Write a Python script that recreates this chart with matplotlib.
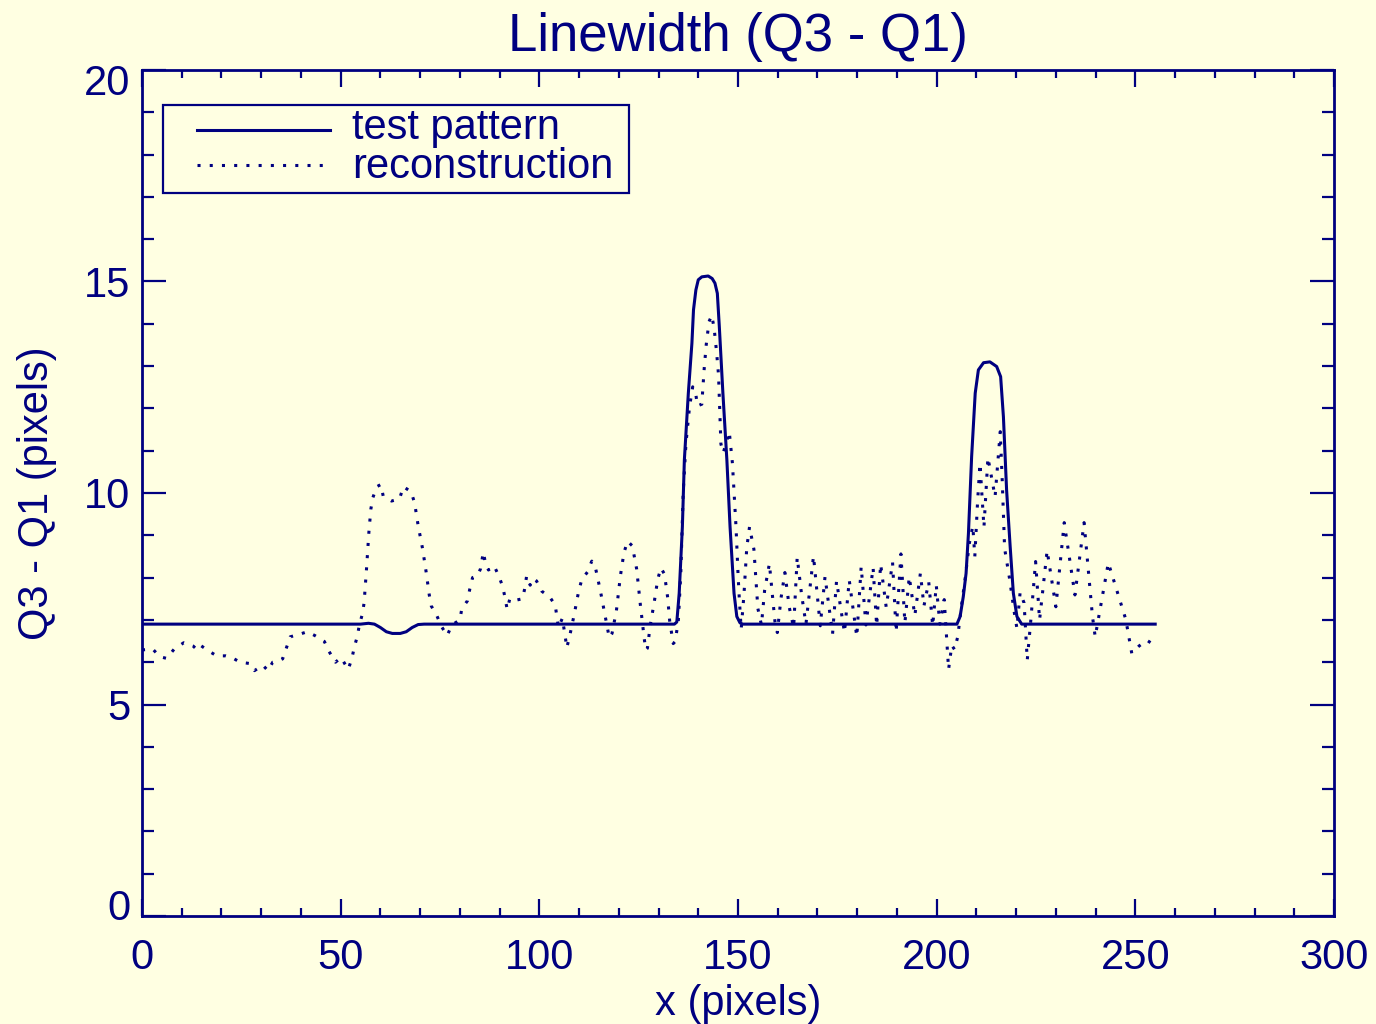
import matplotlib
matplotlib.use('Agg')
import matplotlib.pyplot as plt
from matplotlib.ticker import MultipleLocator
from matplotlib.transforms import ScaledTranslation
from matplotlib.patches import Rectangle

# test pattern (solid)
test_x = [0, 55, 57, 58.5, 60, 61.5, 63, 65, 66.5, 68, 69.5, 71,
          134, 134.6, 135.2, 136.0, 136.5, 137.5, 138.4, 138.8, 139.4, 140.0, 140.9,
          142.5, 143.5, 144.2, 144.8, 145.3, 146.2, 147.2, 148.0, 149.0, 149.7, 150.5, 151.2,
          205.1, 205.9, 206.7, 207.4, 208.0, 208.8, 209.7, 210.5, 211.8, 213.4,
          215.1, 216.1, 216.8, 217.6, 218.5, 219.3, 220.2, 221.4, 255]
test_q = [6.9, 6.9, 6.92, 6.9, 6.82, 6.72, 6.68, 6.68, 6.72, 6.82, 6.89, 6.9,
          6.9, 6.95, 7.63, 9.2, 10.78, 12.36, 13.54, 14.33, 14.8, 15.04, 15.11,
          15.13, 15.07, 14.96, 14.72, 13.93, 12.36, 10.78, 9.2, 7.63, 7.08, 6.93, 6.9,
          6.9, 7.08, 7.55, 8.1, 9.05, 10.86, 12.36, 12.91, 13.08, 13.1,
          12.99, 12.75, 11.8, 10.07, 8.73, 7.63, 7.08, 6.9, 6.9]

# reconstruction (dotted)
rec_x = [0, 2.7, 4.5, 6.2, 8.1, 10.5, 12.9, 13.8, 14.7, 16.7, 18.8, 21.1, 22.6, 24.7,
         27.0, 28.3, 30.4, 31.7, 32.9, 34.3, 35.4, 36.4, 37.3, 39.6, 41.6, 43.5, 45.9,
         47.1, 48.7, 50.1, 51.5, 51.9, 52.8, 53.4, 54.2, 54.7, 55.5, 55.9, 56.5, 57.1,
         57.6, 58.1, 59.1, 60.1, 60.7, 62.8, 64.8, 65.8, 67.7, 68.6, 69.5, 70.6, 71.5,
         72.3, 72.8, 74.2, 75.4, 76.8, 78.0, 80.0, 80.5, 81.9, 82.5, 83.2, 84.5, 85.2,
         85.9, 86.5, 87.2, 88.6, 89.8, 90.8, 91.4, 91.9, 92.6, 94.3, 95.8, 96.4, 96.8,
         97.7, 98.5, 99.3, 100.6, 102.7, 104.0, 104.8, 105.8, 106.6, 106.9, 107.6,
         108.8, 109.9, 110.7, 112.1, 113.2, 114.2, 115.4, 116.5, 117.6, 118.3, 119.4,
         120.4, 121.3, 122.2, 123.4, 124.5, 125.4, 126.4, 126.8, 127.2, 127.9, 128.9,
         129.8, 130.6, 131.5, 132.3, 132.8, 133.7, 134.2, 135.0, 135.6, 136.2, 136.9,
         137.8, 138.6, 139.4, 139.8, 140.9, 141.1, 141.5, 142.0, 142.7, 143.4, 144.0,
         144.6, 145.1, 145.4, 145.7, 146.3, 147.8, 148.6, 149.0, 149.5, 150.0, 150.3,
         150.8, 151.5, 152.2, 152.9, 154.0, 155.0, 155.9, 156.7, 157.9, 159.3, 159.9,
         160.8, 161.8, 162.9, 164.0, 164.9, 166.0, 167.1, 169.0, 170.7, 171.9, 173.8,
         174.8, 176.8, 178.0, 179.9, 181.0, 182.2, 184.0, 184.9, 185.9, 187.3, 188.9,
         189.8, 191.0, 192.0, 193.1, 194.5, 195.9, 196.8, 198.0, 199.0, 199.9, 200.8,
         201.9, 203.0, 203.8, 204.5, 205.3, 206.2, 207.2, 208.2, 209.1, 209.6, 210.3,
         210.9, 211.9, 212.9, 214.7, 216.0, 216.5, 217.1, 218.3, 219.5, 220.2, 221.0,
         222.0, 222.8, 223.7, 224.9, 225.9, 227.8, 230.0, 232.1, 234.8, 237.1, 239.2,
         239.9, 243.2, 247.6, 249.1, 250.9, 252.9, 254.5]
rec_q = [6.29, 6.31, 6.13, 6.09, 6.31, 6.46, 6.38, 6.3, 6.4, 6.27, 6.15, 6.15, 6.11, 6.0,
         5.97, 5.8, 5.93, 5.8, 6.0, 6.03, 6.08, 6.35, 6.6, 6.66, 6.72, 6.63, 6.49,
         6.25, 6.0, 6.11, 5.89, 5.83, 6.08, 6.34, 6.62, 6.88, 7.15, 7.41, 8.2, 9.07,
         9.62, 9.89, 10.15, 10.2, 9.93, 9.81, 9.86, 10.15, 10.03, 9.77, 9.23, 8.69, 8.14,
         7.59, 7.33, 7.1, 6.84, 6.63, 6.88, 7.0, 7.27, 7.45, 7.73, 8.0, 8.05, 8.21,
         8.6, 8.32, 8.18, 8.28, 8.04, 7.78, 7.51, 7.25, 7.51, 7.47, 7.5, 7.78, 8.04,
         7.82, 7.98, 7.92, 7.68, 7.53, 7.35, 6.82, 7.04, 6.55, 6.34, 6.6,
         7.14, 7.68, 7.96, 8.13, 8.39, 8.2, 7.67, 7.12, 6.58, 6.68, 7.22,
         8.04, 8.59, 8.86, 8.75, 8.2, 7.38, 6.56, 6.29, 6.33, 6.86, 7.41,
         7.96, 8.23, 8.08, 7.53, 6.98, 6.44, 6.49, 7.0, 8.1, 10.0, 11.17,
         12.04, 12.51, 12.32, 12.06, 12.1, 12.4, 12.95, 13.5, 14.05, 14.2, 13.89,
         13.34, 12.79, 11.98, 11.16, 10.95, 11.45, 10.7, 10.03, 9.2, 8.1, 7.55,
         6.78, 7.6, 8.7, 9.2, 8.67, 7.27, 6.88, 7.7, 8.33, 6.96, 6.7,
         7.5, 8.12, 7.3, 6.82, 8.48, 7.6, 6.9, 8.51, 6.86, 8.02, 6.67,
         7.92, 6.7, 7.94, 6.6, 8.26, 6.88, 8.24, 6.86, 8.32, 7.3, 8.36,
         6.71, 8.56, 6.93, 8.02, 7.1, 8.1, 7.33, 7.9, 6.86, 7.82, 6.9,
         7.48, 5.83, 6.4, 6.3, 6.6, 7.3, 8.0, 8.8, 9.22, 8.5, 9.8,
         10.7, 9.19, 10.84, 9.91, 11.45, 10.3, 8.69, 8.0, 7.2, 6.8, 7.65,
         7.4, 6.05, 7.0, 8.38, 7.0, 8.64, 7.31, 9.3, 7.59, 9.3, 7.09,
         6.6, 8.35, 7.01, 6.21, 6.38, 6.52, 6.42]

NAVY = '#000080'
BG = '#FFFFE2'

plt.rcParams['font.family'] = ['Liberation Sans', 'DejaVu Sans']

fig = plt.figure(figsize=(13.76, 10.24), dpi=100, facecolor=BG)
ax = fig.add_axes([142 / 1376, 1 - 916 / 1024, 1192 / 1376, 846 / 1024], facecolor=BG)

ax.plot(test_x, test_q, color=NAVY, lw=2.2, solid_joinstyle='round')
ax.plot(rec_x, rec_q, color=NAVY, lw=2.2, linestyle=(0, (1, 3)), dash_capstyle='butt')

ax.set_xlim(0, 300)
ax.set_ylim(0, 20)
ax.set_xticks(range(0, 301, 50))
ax.set_yticks(range(0, 21, 5))
ax.xaxis.set_minor_locator(MultipleLocator(10))
ax.yaxis.set_minor_locator(MultipleLocator(1))

for s in ax.spines.values():
    s.set_color(NAVY)
    s.set_linewidth(2.0)

ax.tick_params(axis='both', which='both', direction='in', color=NAVY, labelcolor=NAVY,
               top=True, right=True, labelsize=30, width=1.6)
ax.tick_params(axis='x', which='major', length=12.2, pad=16)
ax.tick_params(axis='x', which='minor', length=6.1)
ax.tick_params(axis='y', which='major', length=17.3, pad=8.6)
ax.tick_params(axis='y', which='minor', length=8.6)

# shift end labels inward on the y axis like the original
yt = ax.yaxis.get_major_ticks()
yt[0].label1.set_transform(yt[0].label1.get_transform() + ScaledTranslation(0, 0.12, fig.dpi_scale_trans))
yt[-1].label1.set_transform(yt[-1].label1.get_transform() + ScaledTranslation(0, -0.10, fig.dpi_scale_trans))

ax.set_title('Linewidth (Q3 - Q1)', color=NAVY, fontsize=38, pad=14)
ax.set_xlabel('x (pixels)', color=NAVY, fontsize=30)
ax.set_ylabel('Q3 - Q1 (pixels)', color=NAVY, fontsize=30)
ax.xaxis.set_label_coords(0.5, -0.08)
ax.yaxis.set_label_coords(-0.071, 0.5)

# legend box drawn by hand
ax.add_patch(Rectangle((0.0176, 0.8546), 0.391, 0.104, transform=ax.transAxes,
                       fill=False, edgecolor=NAVY, lw=1.6, clip_on=False))
ax.plot([0.0461, 0.1577], [0.9291, 0.9291], transform=ax.transAxes, color=NAVY, lw=2.2)
ax.plot([0.0461, 0.1577], [0.8877, 0.8877], transform=ax.transAxes, color=NAVY, lw=2.2,
        linestyle=(0, (1, 3)), dash_capstyle='butt')
ax.text(0.1762, 0.9185, 'test pattern', transform=ax.transAxes, color=NAVY, fontsize=30, va='baseline')
ax.text(0.1762, 0.8725, 'reconstruction', transform=ax.transAxes, color=NAVY, fontsize=30, va='baseline')

fig.savefig('out.png', dpi=100, facecolor=BG)
